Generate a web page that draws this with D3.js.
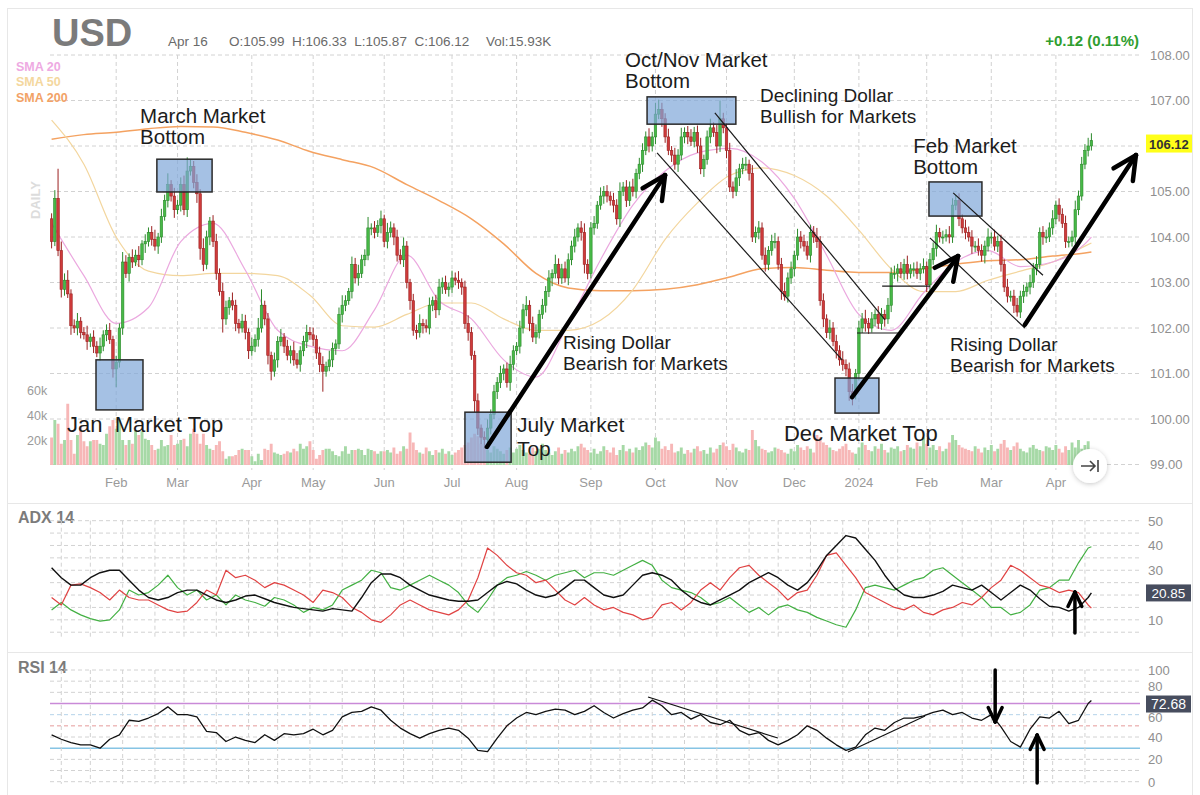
<!DOCTYPE html>
<html><head><meta charset="utf-8">
<script src="https://cdn.jsdelivr.net/npm/d3@7"></script>
<style>
html,body{margin:0;padding:0;background:#fff;}
svg{display:block;font-family:"Liberation Sans",Arial,sans-serif;}
</style></head><body>
<svg id="chart" width="1200" height="795"></svg>
<script>
// ---------------- DATA ----------------
const firstOpen = 104.4;
const closes = [
103.9,104.85,103.7,102.85,103.05,102.75,102.05,102.0,102.15,101.9,101.85,101.7,101.8,101.6,101.45,101.6,101.85,101.95,101.75,101.1,
101.25,102.0,103.45,103.2,103.55,103.45,103.6,103.5,103.85,103.9,104.1,103.95,103.8,104.0,104.45,104.8,105.15,104.9,104.6,104.7,
105.15,104.6,105.45,105.55,105.2,104.95,103.75,103.4,104.0,104.35,103.9,103.2,102.8,102.2,102.45,102.6,102.5,102.1,102.0,102.15,
101.9,101.5,101.6,101.75,102.0,102.5,102.2,101.4,101.05,101.3,101.7,101.8,101.6,101.4,101.5,101.3,101.2,101.5,101.7,101.9,
101.85,101.75,101.45,101.2,101.05,101.15,101.3,101.55,101.65,102.3,102.5,102.6,102.8,103.4,103.1,103.2,103.5,103.6,104.2,104.2,
104.1,104.25,104.4,103.9,104.1,104.2,104.0,103.6,103.5,103.8,103.0,102.6,101.95,101.9,102.1,102.05,102.0,102.5,102.6,102.4,
102.9,103.0,102.85,102.9,103.1,103.05,103.0,102.9,102.1,101.9,101.4,100.4,99.8,99.6,99.55,99.8,100.1,100.6,100.8,101.0,
101.1,100.8,101.2,101.5,101.6,102.0,102.4,102.5,102.1,101.8,101.9,102.3,102.5,102.8,103.1,103.2,103.4,103.1,103.3,103.1,
103.5,103.8,104.0,104.2,104.1,103.4,103.2,104.2,104.3,104.7,104.9,105.0,104.9,104.8,104.7,104.4,105.0,105.1,104.8,105.1,
105.0,105.4,105.6,105.9,106.2,106.0,106.2,106.7,106.8,106.6,106.2,105.9,105.8,105.6,105.8,106.2,106.3,106.2,106.1,106.3,
106.0,105.5,105.7,106.2,106.4,106.3,106.0,106.6,106.4,105.9,105.1,105.0,105.3,105.5,105.6,105.6,105.4,104.0,104.1,104.2,
103.6,103.4,103.7,103.9,103.9,103.4,102.8,102.7,103.1,103.3,103.6,104.0,103.9,103.8,103.6,104.1,104.0,103.9,102.6,102.2,
101.9,102.0,101.7,101.5,101.3,101.2,101.1,100.6,100.55,101.0,102.0,102.2,102.1,102.0,102.2,102.3,102.1,102.3,102.2,102.5,
103.2,103.2,103.3,103.2,103.4,103.2,103.3,103.3,103.2,103.3,103.35,102.95,103.5,103.75,104.1,104.0,104.0,104.05,104.0,104.7,
104.8,104.4,104.2,104.1,104.0,103.8,103.8,103.7,103.6,103.8,104.0,104.0,103.8,103.9,103.4,102.9,102.7,102.7,102.5,102.35,
102.7,102.8,102.9,103.0,103.3,103.4,104.1,104.0,104.0,104.2,104.4,104.7,104.5,104.3,103.9,103.9,104.0,104.6,104.9,105.6,
105.9,106.0,106.12];
// upper / lower wick lengths in hundredths
const wickUp = [
12,18,65,20,15,22,10,14,18,9,12,20,8,15,11,19,10,13,16,8,
14,10,22,15,9,18,12,20,8,16,11,14,21,9,17,13,25,10,18,12,
16,20,30,15,12,18,10,22,14,9,13,17,11,20,15,8,18,12,10,16,
14,9,19,11,22,35,10,13,8,16,12,18,9,14,11,20,15,10,13,17,
12,16,9,14,18,11,20,13,10,15,22,12,8,17,14,19,11,13,24,10,
15,12,18,9,21,14,10,16,13,19,11,8,15,12,20,10,14,17,9,13,
18,11,15,10,16,12,20,9,14,18,12,10,16,8,13,19,11,15,12,17,
10,14,19,12,9,16,13,20,11,15,18,10,14,12,17,9,21,13,11,16,
14,12,18,10,15,20,11,13,16,9,19,12,14,10,17,13,20,11,15,12,
18,10,14,16,12,19,11,25,22,15,12,18,10,16,13,20,11,14,17,12,
15,18,11,14,20,12,16,40,13,10,17,12,19,11,14,16,10,18,13,15,
12,17,10,15,19,11,14,20,12,16,10,18,13,15,11,17,14,20,12,16,
10,18,13,15,12,19,11,14,17,10,16,13,20,12,15,11,18,14,10,16,
13,17,11,15,12,19,10,14,16,12,18,11,15,13,17,10,14,12,19,15,
12,16,10,18,13,15,11,17,14,12,19,10,16,13,15,11,18,12,14,16,
12,15,10,17,13,18,11,14,16,12,19,10,15,13,17,11,14,20,12,16,
14,18,16];
const wickDn = [
15,10,12,18,14,9,20,11,16,13,10,18,12,15,9,17,11,14,10,19,
40,12,15,10,18,13,9,16,12,20,11,14,10,17,13,9,15,12,18,10,
14,12,16,10,13,20,25,15,11,18,12,14,9,30,13,16,11,17,12,10,
15,18,11,13,16,10,14,20,20,12,17,10,15,11,18,13,9,16,12,14,
11,15,13,17,45,12,10,16,14,11,18,13,9,15,12,17,10,14,11,16,
13,10,17,12,15,11,18,14,10,16,13,20,12,15,11,17,10,14,13,18,
12,15,10,16,13,11,14,17,12,18,10,25,15,15,18,11,14,10,16,12,
15,11,18,13,10,16,12,14,17,11,15,13,10,16,12,18,11,14,13,10,
16,12,14,10,18,20,13,11,15,12,10,17,14,11,16,13,18,10,14,12,
11,15,13,17,10,14,12,16,11,18,13,10,15,12,17,11,14,16,10,13,
15,12,18,11,14,10,16,13,12,17,11,15,10,18,12,14,16,11,13,15,
10,16,13,11,15,12,18,10,14,13,17,11,15,12,10,16,13,14,11,18,
12,15,10,17,13,14,16,20,25,12,15,11,18,13,10,16,12,14,17,11,
15,12,18,10,14,13,11,17,12,15,10,16,13,11,18,12,15,10,14,13,
11,16,12,15,10,17,13,11,14,18,12,15,10,13,16,11,14,12,17,10,
13,15,11,16,12,14,10,17,13,11,15,12,16,10,14,13,11,15,12,10,
11,13,10];
// volume in thousands
const volumes = [
22,36,33,17,20,49,20,9,24,31,19,15,19,20,20,17,16,25,31,36,
29,36,20,16,20,17,28,24,27,21,20,16,12,13,20,15,16,24,16,17,
20,21,15,25,29,25,17,25,16,13,12,16,19,11,5,7,7,8,12,13,
12,12,7,3,9,4,13,12,17,10,9,8,9,11,10,13,11,17,13,15,
19,12,5,8,12,13,13,11,8,7,11,15,9,12,12,13,12,8,13,12,
11,9,11,11,12,10,14,9,11,15,13,26,18,12,10,9,14,11,8,12,
10,13,9,11,8,10,12,14,16,18,22,25,23,17,14,12,10,15,13,11,
9,12,14,10,13,16,12,10,9,14,11,13,17,12,10,8,11,14,9,12,
10,13,11,15,17,14,12,10,13,9,11,15,12,10,14,8,12,16,11,13,
10,14,12,15,18,16,14,22,19,13,15,12,17,10,11,14,9,12,10,13,
15,11,12,9,14,10,13,16,18,15,12,17,14,11,10,13,12,28,20,15,
13,12,10,11,14,13,12,10,9,13,11,16,14,12,15,13,10,24,22,18,
16,14,12,11,13,15,17,12,10,9,14,18,16,12,11,15,13,17,12,10,
14,13,15,11,12,16,14,13,18,15,22,17,14,16,12,15,11,13,18,24,
20,16,14,13,12,11,15,13,10,14,12,16,11,13,17,20,14,12,15,18,
13,11,10,14,16,13,12,11,15,14,12,16,13,10,15,12,18,14,20,13,
16,19,12];
// moving averages, read every 10 sessions (+ last session)
const sma20 = [104.3,103.15,102.1,102.45,103.9,104.3,103.27,101.95,101.6,101.5,102.4,103.6,102.6,102.2,101.3,100.92,102.1,103.5,104.7,105.45,105.85,105.95,105.65,104.85,103.6,102.3,101.95,102.77,103.45,103.7,103.35,103.45,103.85,104.0];
const sma50 = [106.57,105.6,104.0,103.25,103.15,103.2,103.2,103.15,102.72,102.05,102.02,102.3,102.55,102.55,102.2,101.95,101.95,102.17,102.84,103.95,104.75,105.35,105.52,105.35,104.9,104.15,103.3,102.8,102.8,103.05,103.25,103.45,103.8,103.87];
const sma200 = [106.15,106.25,106.3,106.38,106.43,106.42,106.3,106.13,105.88,105.7,105.52,105.15,104.8,104.4,103.85,103.2,102.88,102.82,102.82,102.85,102.95,103.12,103.3,103.33,103.27,103.22,103.22,103.3,103.4,103.48,103.5,103.58,103.65,103.67];
// indicators, read every 3 sessions (+ last session)
const adx = [31,27,24,24,27,29,30,30,26,22,19,18,19,21,22,22,20,18,17,18,19.6,20,18.5,17,16,15,14.5,14,13.5,14.5,14,13.5,19,25,28.5,28.5,27,24,22,20,19,18,17.5,17.5,18,21,24,25.5,24.5,22,20,19,20,23,26,26,23,20,19,20,24,28,29,28,26,22,19,17,16,18,20,22,25,27,29,27,24,22,25,30,36,40,44,43,38.5,34,28,23,20,19,19,20,21.5,24,23,22,24,21,18,21,24,22,18.5,15.5,15,13.5,15,19,20.85];
const minusDI = [19,16,24,24.5,23,21,18,22,19,18,18,16,14,13,13.5,17,22,20,30,27,28,26,23,25,24,22,20,17,22,21,19,15,13,10,9,12,16,18,16,14,13,12,14,18,27,39,36,32,29,28,25,26,22,18,16,19,16,14,15,13,12,10,11,16,17,14,17,22,25,22,27,31,32,28,25,22,18,21,22,28,36,37,32,27,21,19,17,15,14,16,13,12,14,15,17,16,19,23,26,32,30,27,24,23,21,22,21,16,14.7];
const plusDI = [14,17,14,12,10.5,9.5,10,14,22,20,21,24,28,23,20,22,18,20,16,20,18,17,15.5,19,18,16,13,15,14,16,22,24,26,30,29,23,22,24,26,28,26,24,21,16,13,18,24,27,28,29.5,28,26,28,29,30,27,29,29,28,30,32,34,32,26,23,22,21,19,16,17,19,16,13,15,12,15,16,14,13,11,9.5,8,7,14,23,24,23,22,24,26,27,30,31,28,25,22,19,15,15,12,13,16,22,23,26,26,33,39,39.5];
const rsi = [42,38,35,33,33,30,38,42,55,54,57,61,67,60,60,58,45,44,36,40,37,35,42,37,43,42,43,47,42,46,58,62,63,67,64,55,48,43,39,43,46,48,46,39,28,27,39,50,57,62,60,63,65,64,60,63,68,62,57,61,64,66,73,68,60,62,56,60,53,51,55,46,42,44,37,33,37,42,50,46,39,33,28,31,42,48,46,53,57,57,59,62,64,60,62,57,55,60,49,36,31,47,58,57,63,52,55,70,72.68];
const priceTicks = [99,100,101,102,103,104,105,106,107,108];
const volTicks = [20,40,60];
const adxTicks = [10,20,30,40,50];
const rsiTicks = [0,20,40,60,80,100];
const holidays = ["2023-01-16","2023-02-20","2023-04-07","2023-05-29","2023-06-19","2023-07-04","2023-09-04","2023-11-23","2023-12-25","2024-01-01","2024-01-15","2024-02-19","2024-03-29"];

// annotations (session index, price)
const boxes = [[13.75,28.3,101.30,100.20],[32.6,49.7,105.71,104.99],[128.0,142.3,100.15,99.05],[184.4,211.9,107.08,106.48],[242.6,256.2,100.90,100.13],[271.7,288.1,105.21,104.46]];
const notes = [
 {i:27.4,p:106.50,s:20.5,g:21,t:["March Market","Bottom"]},
 {i:4.77,p:99.71,s:22,g:0,t:["Jan  Market Top"]},
 {i:177.6,p:107.73,s:20.5,g:21,t:["Oct/Nov Market","Bottom"]},
 {i:219.4,p:106.96,s:19,g:21,t:["Declining Dollar","Bullish for Markets"]},
 {i:158.4,p:101.53,s:19,g:21,t:["Rising Dollar","Bearish for Markets"]},
 {i:144.1,p:99.71,s:21,g:24,t:["July Market","Top"]},
 {i:226.8,p:99.52,s:22,g:0,t:["Dec Market Top"]},
 {i:266.8,p:105.84,s:20.5,g:21,t:["Feb Market","Bottom"]},
 {i:278.2,p:101.50,s:19,g:21.5,t:["Rising Dollar","Bearish for Markets"]}
];
const bigArrows = [[134.8,99.385,189.97,105.36],[247.9,100.48,280.7,103.58],[301.4,102.07,335.8,105.80]];
const thinLines = [[187.5,105.85,244.8,101.30],[205.4,106.73,258.1,102.18],[272,103.98,301.4,102.0],[279.2,104.97,307,103.16],[249.4,101.89,262.1,101.89],[257.2,102.92,272,102.92]];
const rsiLines = [[184.7,75.8,224.9,39.1],[246.6,26.6,270.5,58.8]];

// ---------------- BUILD ----------------
const svg = d3.select("#chart");
const n = closes.length;
const holi = new Set(holidays);
const fmtD = d3.timeFormat("%Y-%m-%d");
const dates = [];
for (let d = new Date(2023,0,3); dates.length < n; d = d3.timeDay.offset(d,1)) {
  const wd = d.getDay();
  if (wd===0 || wd===6 || holi.has(fmtD(d))) continue;
  dates.push(new Date(d));
}
const data = closes.map((c,i)=>{
  const o = i===0 ? firstOpen : closes[i-1];
  return {i, o, c, h: Math.max(o,c)+(wickUp[i]||10)/100, l: Math.min(o,c)-(wickDn[i]||10)/100, v: volumes[i]||0};
});

const x = d3.scaleLinear().domain([0,n-1]).range([51.6,1091.4]);
const y = d3.scaleLinear().domain([99,108]).range([464.5,55]);
const yv = d3.scaleLinear().domain([0,60]).range([465,390]);
const ya = d3.scaleLinear().domain([0,50]).range([644.6,520.7]);
const yr = d3.scaleLinear().domain([0,100]).range([781.7,670]);

const defs = svg.append("defs");
defs.append("filter").attr("id","sh").attr("x","-50%").attr("y","-50%").attr("width","200%").attr("height","200%")
  .append("feDropShadow").attr("dx",0).attr("dy",1).attr("stdDeviation",2.5).attr("flood-color","#000").attr("flood-opacity",0.22);

// card frame
svg.append("rect").attr("x",7.5).attr("y",8.5).attr("width",1185).attr("height",795).attr("fill","none").attr("stroke","#e7e7e7");
[503,652].forEach(v=>svg.append("line").attr("x1",7).attr("x2",1193).attr("y1",v+0.5).attr("y2",v+0.5).attr("stroke","#e7e7e7"));

const gridC = "#d2d2d2", dash = "4,3";
const monthIdx = [];
for (let i=1;i<n;i++) if (dates[i].getMonth()!==dates[i-1].getMonth()) monthIdx.push(i);
const fmtM = d3.timeFormat("%b");
const biIdx = [];
for (let t = new Date(2023,0,6); t <= dates[n-1]; t = d3.timeDay.offset(t,14)) {
  const k = d3.bisectRight(dates, t) - 1;
  if (k>=0) biIdx.push(k);
}

// main grid
const g0 = svg.append("g");
priceTicks.forEach(p=>g0.append("line").attr("x1",50).attr("x2",1140).attr("y1",y(p)).attr("y2",y(p)).attr("stroke",gridC).attr("stroke-dasharray",dash));
monthIdx.forEach(i=>g0.append("line").attr("x1",x(i)).attr("x2",x(i)).attr("y1",55).attr("y2",470).attr("stroke",gridC).attr("stroke-dasharray",dash));

// header
svg.append("text").attr("x",52).attr("y",46).attr("font-size",38).attr("font-weight","bold").attr("fill","#7b7b7b").text("USD");
svg.append("text").attr("x",168).attr("y",46).attr("font-size",13.5).attr("fill","#6a6a6a").text("Apr 16");
svg.append("text").attr("x",229).attr("y",46).attr("font-size",13.5).attr("fill","#6a6a6a").text("O:105.99  H:106.33  L:105.87  C:106.12").style("white-space","pre");
svg.append("text").attr("x",486).attr("y",46).attr("font-size",13.5).attr("fill","#6a6a6a").text("Vol:15.93K");
svg.append("text").attr("x",1139).attr("y",46).attr("text-anchor","end").attr("font-size",15).attr("font-weight","bold").attr("fill","#2f9e2f").text("+0.12 (0.11%)");
[["SMA 20","#eeaae2",71],["SMA 50","#f4d79e",86],["SMA 200","#f2a266",102]].forEach(s=>
  svg.append("text").attr("x",16).attr("y",s[2]).attr("font-size",12.5).attr("font-weight","bold").attr("fill",s[1]).text(s[0]));
svg.append("text").attr("transform","translate(40,200) rotate(-90)").attr("text-anchor","middle").attr("font-size",13).attr("font-weight","bold").attr("fill","#dcdcdc").text("DAILY");

// volume
const gv = svg.append("g");
gv.selectAll("rect").data(data).join("rect")
  .attr("x",d=>x(d.i)-1.45).attr("width",2.9)
  .attr("y",d=>yv(d.v)).attr("height",d=>yv(0)-yv(d.v))
  .attr("fill",d=>d.c>=d.o?"#a6d9a6":"#f7b7b7");
volTicks.forEach(v=>svg.append("text").attr("x",27).attr("y",yv(v)+4.5).attr("font-size",12.5).attr("fill","#9a9a9a").text(v+"k"));

// moving averages
const smaIdx = d3.range(0,n-2,10).concat([n-1]);
const lineP = d3.line().x(d=>x(d[0])).y(d=>y(d[1])).curve(d3.curveMonotoneX);
[[sma200,"#f4a261",1.5],[sma50,"#f3d69e",1.2],[sma20,"#eba8df",1.2]].forEach(s=>{
  svg.append("path").attr("d",lineP(smaIdx.map((k,j)=>[k,s[0][j]]))).attr("fill","none").attr("stroke",s[1]).attr("stroke-width",s[2]);
});

// candles
const gc = svg.append("g");
const up = "#47b947", upS = "#2c8a2c", dn = "#cf3b3b", dnS = "#9b2020";
gc.selectAll("line").data(data).join("line")
  .attr("x1",d=>x(d.i)).attr("x2",d=>x(d.i)).attr("y1",d=>y(d.h)).attr("y2",d=>y(d.l))
  .attr("stroke",d=>d.c>=d.o?upS:dnS).attr("stroke-width",1);
gc.selectAll("rect").data(data).join("rect")
  .attr("x",d=>x(d.i)-1.25).attr("width",2.5)
  .attr("y",d=>y(Math.max(d.o,d.c))).attr("height",d=>Math.max(1,Math.abs(y(d.o)-y(d.c))))
  .attr("fill",d=>d.c>=d.o?up:dn).attr("stroke",d=>d.c>=d.o?upS:dnS).attr("stroke-width",0.6);

// x axis labels
monthIdx.forEach(i=>svg.append("text").attr("x",x(i)).attr("y",487).attr("text-anchor","middle").attr("font-size",13).attr("fill","#9a9a9a")
  .text(dates[i].getMonth()===0 ? dates[i].getFullYear() : fmtM(dates[i])));

// price axis (labels covered by the last-price tag are not drawn)
const last = closes[n-1];
priceTicks.filter(p=>Math.abs(y(p)-y(last))>14).forEach(p=>svg.append("text").attr("x",1150).attr("y",y(p)+4.5).attr("font-size",13).attr("fill","#8f8f8f").text(p.toFixed(2)));
svg.append("rect").attr("x",1146).attr("y",y(last)-6).attr("width",46).attr("height",18).attr("fill","#ffff1a");
svg.append("text").attr("x",1149).attr("y",y(last)+8).attr("font-size",13).attr("font-weight","bold").attr("fill","#333").text(last.toFixed(2));

// annotations
const ga = svg.append("g");
boxes.forEach(b=>ga.append("rect").attr("x",x(b[0])).attr("y",y(b[2])).attr("width",x(b[1])-x(b[0])).attr("height",y(b[3])-y(b[2]))
  .attr("fill","#7fa6d8").attr("fill-opacity",0.7).attr("stroke","#2a2a2a").attr("stroke-width",1.5));
thinLines.forEach(l=>ga.append("line").attr("x1",x(l[0])).attr("y1",y(l[1])).attr("x2",x(l[2])).attr("y2",y(l[3])).attr("stroke","#1a1a1a").attr("stroke-width",1.2));
function arrow(g,x1,y1,x2,y2,w,L,da){
  const a = Math.atan2(y2-y1,x2-x1);
  g.append("line").attr("x1",x1).attr("y1",y1).attr("x2",x2).attr("y2",y2).attr("stroke","#000").attr("stroke-width",w).attr("stroke-linecap","round");
  [-da,da].forEach(e=>{const aa=a+Math.PI+e;
    g.append("line").attr("x1",x2).attr("y1",y2).attr("x2",x2+L*Math.cos(aa)).attr("y2",y2+L*Math.sin(aa)).attr("stroke","#000").attr("stroke-width",w).attr("stroke-linecap","round");});
}
bigArrows.forEach(a=>arrow(ga,x(a[0]),y(a[1]),x(a[2]),y(a[3]),4.5,26,0.46));
notes.forEach(l=>{
  l.t.forEach((s,k)=>ga.append("text").attr("x",x(l.i)).attr("y",y(l.p)+k*l.g).attr("font-size",l.s).attr("fill","#1c1c1c").style("white-space","pre").text(s));
});

// go-to-end button
svg.append("circle").attr("cx",1090).attr("cy",466).attr("r",17).attr("fill","#fff").attr("filter","url(#sh)");
svg.append("path").attr("d","M1081,466 H1095 M1090,461 L1095,466 L1090,471 M1098,460 V472").attr("stroke","#444").attr("stroke-width",1.6).attr("fill","none");

// ---------------- ADX panel ----------------
const indIdx = d3.range(0,n-1,3).concat([n-1]);
svg.append("text").attr("x",18).attr("y",523).attr("font-size",16).attr("font-weight","bold").attr("fill","#7b7b7b").text("ADX 14");
d3.range(5,51,5).forEach(v=>svg.append("line").attr("x1",50).attr("x2",1140).attr("y1",ya(v)).attr("y2",ya(v)).attr("stroke",gridC).attr("stroke-dasharray",dash));
biIdx.forEach(i=>svg.append("line").attr("x1",x(i)).attr("x2",x(i)).attr("y1",ya(50)).attr("y2",ya(3)).attr("stroke",gridC).attr("stroke-dasharray",dash));
const lineA = d3.line().x(d=>x(d[0])).y(d=>ya(d[1]));
[[plusDI,"#43b043",1.2],[minusDI,"#e04343",1.2],[adx,"#111",1.4]].forEach(s=>
  svg.append("path").attr("d",lineA(indIdx.map((k,j)=>[k,s[0][j]]))).attr("fill","none").attr("stroke",s[1]).attr("stroke-width",s[2]).attr("stroke-linejoin","round"));
const aLast = adx[adx.length-1];
adxTicks.filter(v=>Math.abs(ya(v)-ya(aLast))>12).forEach(v=>svg.append("text").attr("x",1148).attr("y",ya(v)+5).attr("font-size",13.5).attr("fill","#8f8f8f").text(v));
svg.append("rect").attr("x",1146).attr("y",ya(aLast)-8.5).attr("width",45).attr("height",17).attr("fill","#474d5e");
svg.append("text").attr("x",1168.5).attr("y",ya(aLast)+5).attr("text-anchor","middle").attr("font-size",13.5).attr("fill","#fff").text(aLast.toFixed(2));
arrow(svg,x(316.9),ya(4.7),x(316.9),ya(21.2),3.5,16,0.45);

// ---------------- RSI panel ----------------
svg.append("text").attr("x",18).attr("y",673).attr("font-size",16).attr("font-weight","bold").attr("fill","#7b7b7b").text("RSI 14");
d3.range(0,101,10).forEach(v=>{
  let c = gridC, da = dash, w = 1;
  if (v===70){c="#c98ad8";da=null;w=1.5;}
  else if (v===30){c="#86c4e4";da=null;w=1.5;}
  else if (v===50){c="#e59a9a";}
  else if (v===60){c="#b4d3ea";}
  const l = svg.append("line").attr("x1",50).attr("x2",1140).attr("y1",yr(v)).attr("y2",yr(v)).attr("stroke",c).attr("stroke-width",w);
  if (da) l.attr("stroke-dasharray",da);
});
biIdx.forEach(i=>svg.append("line").attr("x1",x(i)).attr("x2",x(i)).attr("y1",yr(100)).attr("y2",yr(-2)).attr("stroke",gridC).attr("stroke-dasharray",dash));
const lineR = d3.line().x(d=>x(d[0])).y(d=>yr(d[1]));
svg.append("path").attr("d",lineR(indIdx.map((k,j)=>[k,rsi[j]]))).attr("fill","none").attr("stroke","#111").attr("stroke-width",1.3).attr("stroke-linejoin","round");
rsiLines.forEach(l=>svg.append("line").attr("x1",x(l[0])).attr("y1",yr(l[1])).attr("x2",x(l[2])).attr("y2",yr(l[3])).attr("stroke","#111").attr("stroke-width",1.2));
const rLast = rsi[rsi.length-1];
rsiTicks.forEach(v=>{
  const t = svg.append("text").attr("x",1148).attr("y",yr(v)+5).attr("font-size",13).attr("fill","#8f8f8f").text(v);
  if (v===80) t.attr("y",yr(v)-1);   // peeks out above the last-value tag, as in the original
  if (v===60) t.attr("y",yr(v)+7);
});
svg.append("rect").attr("x",1146).attr("y",yr(rLast)-5).attr("width",45).attr("height",17).attr("fill","#474d5e");
svg.append("text").attr("x",1168.5).attr("y",yr(rLast)+8.5).attr("text-anchor","middle").attr("font-size",14).attr("fill","#fff").text(rLast.toFixed(2));
arrow(svg,x(292.2),yr(100),x(292.2),yr(53.5),3.5,16,0.45);
arrow(svg,x(305.2),yr(-1.2),x(305.2),yr(41.8),3.5,16,0.45);
</script></body></html>
